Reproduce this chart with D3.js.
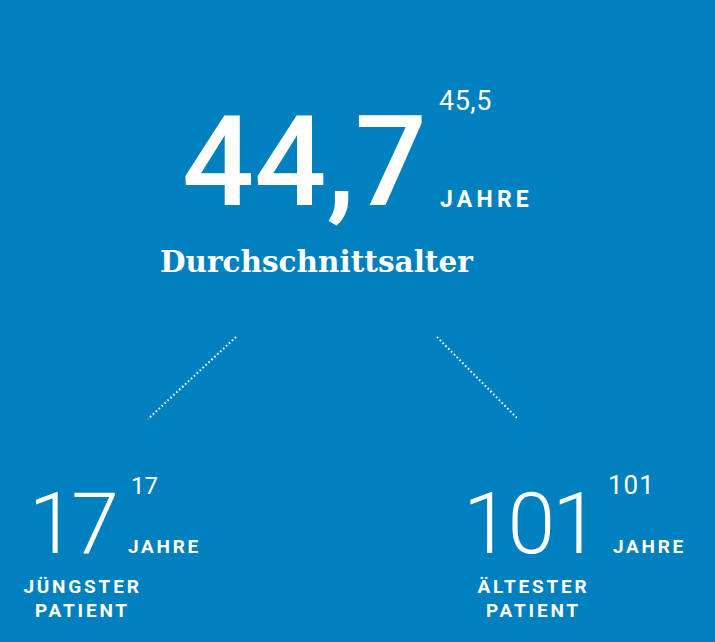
<!DOCTYPE html>
<html>
<head>
<meta charset="utf-8">
<script src="https://cdn.jsdelivr.net/npm/d3@7"></script>
<style>
  html, body { margin: 0; padding: 0; background: #0080be; }
  svg { display: block; }
</style>
</head>
<body>
<div id="chart"></div>
<script>
// values
var mainValue = [44.7];
var mainPrev = ["45,5"];
var mainLabel = ["Durchschnittsalter"];
var sideValues = [17, 101];
var sidePrev = ["17", "101"];
var sideLabels = [["JÜNGSTER", "PATIENT"], ["ÄLTESTER", "PATIENT"]];
var unit = "JAHRE";

function init(){

var w = 715;
var h = 642;
var bg = "#0080be";

var de = d3.formatLocale({decimal: ",", thousands: ".", grouping: [3], currency: ["", " €"]});
var fmt1 = de.format(".1f");
var fmt0 = de.format("d");

let svg = d3.select("#chart")
            .append("svg")
            .attr("width", w)
            .attr("height", h);

svg.append("rect")
    .attr("width", w)
    .attr("height", h)
    .attr("fill", bg);

var sans = "Roboto, 'Open Sans', sans-serif";

// main figure
var main = svg.selectAll("g.main")
    .data(mainValue)
    .enter()
    .append("g")
    .attr("class", "main");

main.append("text")
    .text(function(d){ return fmt1(d); })
    .attr("x", 427)
    .attr("y", 205)
    .attr("text-anchor", "end")
    .attr("font-family", sans)
    .attr("font-weight", 500)
    .attr("font-size", 127)
    .attr("fill", "white");

main.append("text")
    .text(function(d, i){ return mainPrev[i]; })
    .attr("x", 439)
    .attr("y", 110)
    .attr("font-family", sans)
    .attr("font-size", 27)
    .attr("letter-spacing", 0.5)
    .attr("fill", "white");

main.append("text")
    .text(unit)
    .attr("x", 440)
    .attr("y", 207)
    .attr("font-family", sans)
    .attr("font-weight", 700)
    .attr("font-size", 23)
    .attr("letter-spacing", 4.2)
    .attr("fill", "white");

main.append("text")
    .text(function(d, i){ return mainLabel[i]; })
    .attr("x", 160)
    .attr("y", 272)
    .attr("font-family", "'DejaVu Serif', serif")
    .attr("font-weight", 700)
    .attr("font-size", 29.5)
    .attr("fill", "white");

// dotted connectors
var links = [[236, 337, 148, 419], [437, 337, 518, 419]];
svg.selectAll("line.link")
    .data(links)
    .enter()
    .append("line")
    .attr("class", "link")
    .attr("x1", function(d){ return d[0]; })
    .attr("y1", function(d){ return d[1]; })
    .attr("x2", function(d){ return d[2]; })
    .attr("y2", function(d){ return d[3]; })
    .attr("stroke", "white")
    .attr("stroke-width", 2)
    .attr("stroke-dasharray", "1.6,2.4");

// side figures
var sideX = [114, 597];
var labelX = [81, 532];

var side = svg.selectAll("g.side")
    .data(sideValues)
    .enter()
    .append("g")
    .attr("class", "side");

side.append("text")
    .text(function(d){ return fmt0(d); })
    .attr("x", function(d, i){ return sideX[i]; })
    .attr("y", 553)
    .attr("text-anchor", "end")
    .attr("font-family", sans)
    .attr("font-weight", 300)
    .attr("font-size", 86)
    .attr("letter-spacing", function(d, i){ return i == 0 ? -5 : -3; })
    .attr("fill", "white");

side.append("text")
    .text(function(d, i){ return sidePrev[i]; })
    .attr("x", function(d, i){ return i == 0 ? 131 : 608; })
    .attr("y", 494)
    .attr("font-family", sans)
    .attr("font-size", function(d, i){ return i == 0 ? 24 : 26; })
    .attr("letter-spacing", function(d, i){ return i == 0 ? 0 : 1; })
    .attr("fill", "white");

side.append("text")
    .text(unit)
    .attr("x", function(d, i){ return i == 0 ? 128 : 613; })
    .attr("y", 553)
    .attr("font-family", sans)
    .attr("font-weight", 700)
    .attr("font-size", 19)
    .attr("letter-spacing", 2.7)
    .attr("fill", "white");

side.each(function(d, i){
    d3.select(this).selectAll("text.lab")
        .data(sideLabels[i])
        .enter()
        .append("text")
        .attr("class", "lab")
        .text(function(t){ return t; })
        .attr("x", labelX[i] + 1.5)
        .attr("y", function(t, j){ return 593 + j * 24; })
        .attr("text-anchor", "middle")
        .attr("font-family", sans)
        .attr("font-weight", 700)
        .attr("font-size", 19)
        .attr("letter-spacing", 2.8)
        .attr("fill", "white");
});

}

window.onload = init;
</script>
</body>
</html>
